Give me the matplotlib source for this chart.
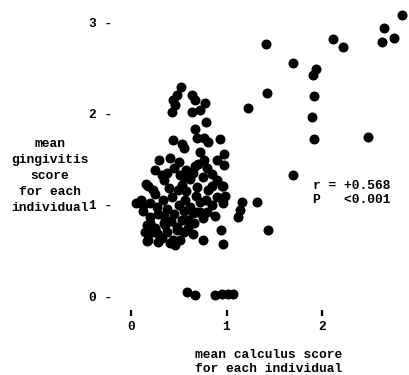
import matplotlib
matplotlib.use("Agg")
import matplotlib.pyplot as plt

# mean calculus score (x) and mean gingivitis score (y), one dot per individual
calculus = [
    # scattered high scorers
    1.41, 1.70, 1.42, 1.22, 2.12, 2.22, 1.94, 1.91, 1.92, 1.90, 1.92,
    2.65, 2.75, 2.63, 2.84, 2.48, 1.70, 1.43, 1.32, 1.16, 1.14, 1.12,
    0.96, 0.94, 0.75, 0.96,
    # zero gingivitis
    0.59, 0.67, 0.88, 0.95, 1.02, 1.07,
    # upper part of the main group
    0.52, 0.48, 0.44, 0.46, 0.43, 0.64, 0.67, 0.77, 0.72, 0.64, 0.79,
    0.67, 0.44, 0.53, 0.69, 0.76, 0.81, 0.93, 0.97, 0.90, 0.97, 0.55,
    0.29, 0.41, 0.50, 0.72, 0.76, 0.67, 0.25, 0.32, 0.18, 0.13, 0.95,
    0.98,
    # dense lower part
    0.16, 0.23, 0.34, 0.51, 0.53, 0.49, 0.65, 0.69, 0.81, 0.90, 0.20,
    0.18, 0.27, 0.34, 0.44, 0.48, 0.53, 0.65, 0.72, 0.20, 0.17, 0.22,
    0.17, 0.28, 0.41, 0.46, 0.51, 0.36, 0.48, 0.60, 0.69, 0.72, 0.96,
    0.10, 0.20, 0.27, 0.33, 0.38, 0.43, 0.50, 0.57, 0.62, 0.68, 0.78,
    0.85, 0.90, 0.25, 0.40, 0.58, 0.62, 0.75, 0.85, 0.28, 0.35, 0.45,
    0.55, 0.60, 0.65, 0.32, 0.12, 0.45, 0.58, 0.80, 0.38, 0.55, 0.70,
    0.85, 0.15, 0.25, 0.38, 0.42, 0.55, 0.66, 0.75, 0.80, 0.88, 0.05,
]
gingivitis = [
    2.76, 2.55, 2.22, 2.06, 2.82, 2.73, 2.49, 2.42, 2.19, 1.96, 1.72,
    2.93, 2.83, 2.78, 3.08, 1.74, 1.32, 0.72, 1.03, 1.03, 0.94, 0.86,
    0.57, 0.72, 0.61, 1.20,
    0.04, 0.01, 0.01, 0.02, 0.02, 0.02,
    2.29, 2.20, 2.15, 2.09, 2.02, 2.20, 2.15, 2.11, 2.04, 2.02, 1.91,
    1.83, 1.71, 1.67, 1.73, 1.73, 1.69, 1.72, 1.56, 1.49, 1.43, 1.62,
    1.49, 1.51, 1.47, 1.58, 1.49, 1.42, 1.38, 1.33, 1.20, 1.00, 1.20,
    1.09,
    1.23, 1.16, 1.27, 1.32, 1.22, 1.16, 1.35, 1.19, 1.16, 1.27, 0.80,
    0.61, 0.69, 0.80, 0.61, 0.72, 0.83, 0.91, 0.92, 0.87, 0.78, 0.70,
    0.60, 0.59, 0.58, 0.56, 0.61, 0.78, 0.76, 0.83, 0.92, 1.03, 1.02,
    1.05, 1.02, 0.97, 1.05, 0.95, 1.08, 1.00, 1.05, 0.98, 1.10, 1.05,
    1.00, 1.08, 1.12, 1.18, 1.15, 1.28, 1.30, 1.20, 0.90, 0.88, 0.90,
    0.93, 0.74, 0.68, 0.64, 0.93, 1.40, 1.38, 1.40, 1.35, 1.30, 1.45,
    1.34, 0.70, 0.75, 0.70, 0.82, 0.70, 0.80, 0.85, 0.92, 0.88, 1.02,
]

x_ticks = [0, 1, 2]
y_ticks = [0, 1, 2, 3]
stats_text = "r = +0.568\nP   <0.001"

font = ["Liberation Mono", "DejaVu Sans Mono"]
plt.rcParams["font.family"] = font
plt.rcParams["font.weight"] = "bold"

fig = plt.figure(figsize=(4.10, 3.75), dpi=100)
ax = fig.add_axes([115 / 410, 65 / 375, 290 / 410, 305 / 375])

ax.scatter(calculus, gingivitis, s=52, c="black", linewidths=0, clip_on=False)

ax.set_xlim(-0.168, 2.869)
ax.set_ylim(-0.153, 3.187)

for side in ax.spines.values():
    side.set_visible(False)

ax.set_xticks(x_ticks)
ax.set_xticklabels([str(t) for t in x_ticks], fontsize=9.3)
ax.tick_params(axis="x", direction="out", length=4, width=1.6, pad=4)

ax.set_yticks(y_ticks)
ax.set_yticklabels([f"{t} -" for t in y_ticks], fontsize=9.3)
ax.tick_params(axis="y", length=0, pad=2)

ax.text(1.905, 1.13, stats_text, fontsize=9.3, va="center", ha="left",
        linespacing=1.25)

fig.text(50 / 410, 1 - 176 / 375,
         "mean\ngingivitis\nscore\nfor each\nindividual",
         fontsize=9.3, ha="center", va="center", linespacing=1.42)
fig.text(269 / 410, 1 - 362 / 375,
         "mean calculus score\nfor each individual",
         fontsize=9.3, ha="center", va="center", linespacing=1.2)

fig.savefig("out.png", dpi=100, facecolor="white")
